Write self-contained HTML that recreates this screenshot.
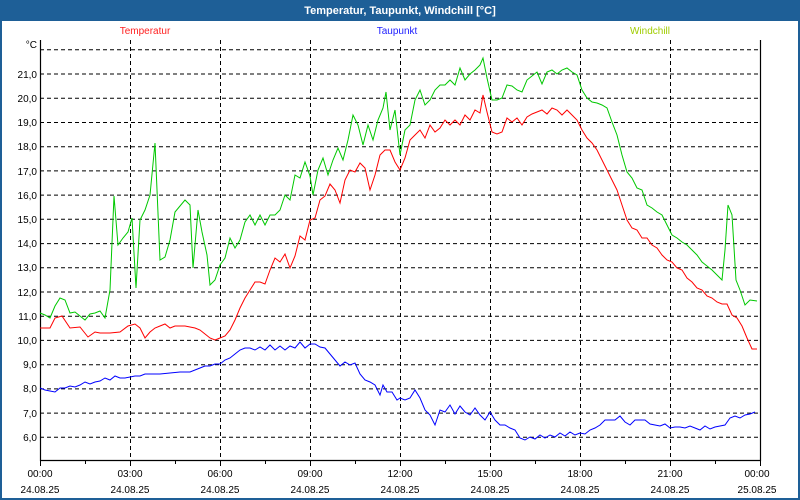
<!DOCTYPE html>
<html><head><meta charset="utf-8"><style>
html,body{margin:0;padding:0;width:800px;height:500px;overflow:hidden;background:#fff;}
svg{display:block;font-family:"Liberation Sans","DejaVu Sans",sans-serif;}
</style></head><body>
<svg width="800" height="500" viewBox="0 0 800 500" xmlns="http://www.w3.org/2000/svg">
<rect x="0" y="0" width="800" height="500" fill="#1e5f97"/>
<rect x="2" y="21" width="796" height="477" fill="#fff"/>
<text x="400" y="14" fill="#fff" font-size="11" font-weight="bold" text-anchor="middle">Temperatur, Taupunkt, Windchill [°C]</text>
<text x="145" y="34" fill="#ff2020" font-size="10" text-anchor="middle">Temperatur</text>
<text x="397" y="34" fill="#2020ff" font-size="10" text-anchor="middle">Taupunkt</text>
<text x="650" y="34" fill="#a0cc00" font-size="10" text-anchor="middle">Windchill</text>
<g stroke="#000" stroke-width="1" stroke-dasharray="4,3" fill="none">
<path d="M40 49.8H760M40 74H760M40 98.2H760M40 122.5H760M40 146.7H760M40 170.9H760M40 195.1H760M40 219.3H760M40 243.6H760M40 267.8H760M40 292H760M40 316.2H760M40 340.4H760M40 364.7H760M40 388.9H760M40 413.1H760M40 437.3H760"/>
<path d="M130.5 40V460M220.5 40V460M310.5 40V460M400.5 40V460M490.5 40V460M580.5 40V460M670.5 40V460"/>
</g>
<path d="M40.5 40V460.5H760.5V40" stroke="#000" stroke-width="1.2" fill="none"/>
<g stroke="#000" stroke-width="1">
<path d="M40.5 460V466M85.5 460V464M130.5 460V466M175.5 460V464M220.5 460V466M265.5 460V464M310.5 460V466M355.5 460V464M400.5 460V466M445.5 460V464M490.5 460V466M535.5 460V464M580.5 460V466M625.5 460V464M670.5 460V466M715.5 460V464M760.5 460V466"/>
</g>
<g font-size="10" fill="#000" text-anchor="end">
<text x="37" y="48">°C</text>
<text x="37" y="78">21,0</text><text x="37" y="102">20,0</text><text x="37" y="126">19,0</text><text x="37" y="150">18,0</text><text x="37" y="175">17,0</text><text x="37" y="199">16,0</text><text x="37" y="223">15,0</text><text x="37" y="247">14,0</text><text x="37" y="271">13,0</text><text x="37" y="296">12,0</text><text x="37" y="320">11,0</text><text x="37" y="344">10,0</text><text x="37" y="368">9,0</text><text x="37" y="392">8,0</text><text x="37" y="417">7,0</text><text x="37" y="441">6,0</text>
</g>
<g font-size="10" fill="#000" text-anchor="middle">
<text x="40" y="477">00:00</text><text x="40" y="493">24.08.25</text>
<text x="130" y="477">03:00</text><text x="130" y="493">24.08.25</text>
<text x="220" y="477">06:00</text><text x="220" y="493">24.08.25</text>
<text x="310" y="477">09:00</text><text x="310" y="493">24.08.25</text>
<text x="400" y="477">12:00</text><text x="400" y="493">24.08.25</text>
<text x="490" y="477">15:00</text><text x="490" y="493">24.08.25</text>
<text x="580" y="477">18:00</text><text x="580" y="493">24.08.25</text>
<text x="670" y="477">21:00</text><text x="670" y="493">24.08.25</text>
<text x="757" y="477">00:00</text><text x="757" y="493">25.08.25</text>
</g>
<polyline fill="none" stroke="#00c800" stroke-width="1" points="40,313 45,315 50,318 55,306 60,298 65,300 70,313 75,312 80,316 85,320 90,314 95,313 100,311 105,318 110,290 114,196 118,245 123,238 128,232 132,218 136,288 140,220 145,210 150,195 155,143 160,260 165,257 170,240 175,212 180,206 185,200 190,205 193,268 198,210 202,232 207,255 210,285 215,280 220,265 225,258 230,238 235,248 240,240 245,222 250,215 255,225 260,215 265,225 270,215 275,215 280,210 285,195 290,200 295,175 300,178 305,162 310,176 313,195 318,170 323,158 328,175 333,160 338,148 343,160 348,140 353,115 358,125 363,145 368,125 373,140 378,120 383,108 386,92 390,130 395,110 400,155 405,130 410,125 415,100 420,90 425,105 430,100 435,90 440,85 445,85 450,80 455,85 460,68 465,80 470,74 475,70 480,65 483,58 487,78 492,100 497,100 502,98 507,85 512,86 517,90 522,92 527,80 532,76 537,72 542,84 547,72 552,70 557,74 562,70 567,68 572,72 577,75 582,90 587,98 592,102 597,103 602,105 607,108 612,122 617,135 622,155 627,172 632,178 637,188 642,190 647,205 652,208 657,212 662,215 667,225 672,235 677,238 682,242 687,245 692,250 697,255 702,262 707,266 712,270 717,275 722,280 725,250 728,205 732,215 736,280 740,290 745,305 750,300 757,301"/>
<polyline fill="none" stroke="#ff0000" stroke-width="1" points="40,328 50,328 55,318 62,316 70,328 80,327 88,337 95,332 100,333 110,333 120,332 128,326 135,324 140,328 145,338 150,332 155,328 160,326 165,324 170,328 175,326 185,326 195,328 200,330 205,334 210,338 215,340 220,338 225,336 230,330 235,320 240,308 245,298 250,290 255,282 260,282 265,284 270,270 275,258 280,262 285,254 290,268 295,256 300,236 305,240 310,220 315,218 320,200 325,196 330,184 335,190 340,203 345,180 350,170 355,172 360,163 365,168 370,190 375,175 380,155 385,150 390,150 395,162 400,170 405,158 410,140 415,135 420,130 425,138 430,125 435,132 440,128 445,120 450,125 455,120 460,125 465,115 470,120 475,110 480,113 483,95 487,112 492,132 497,134 502,132 507,118 512,122 517,118 522,125 527,117 532,114 537,112 542,110 547,114 552,108 557,110 562,115 567,110 572,115 577,120 582,130 587,138 592,143 597,150 602,160 607,170 612,180 617,190 622,205 627,220 632,228 637,230 642,238 647,238 652,245 657,248 662,255 667,260 672,262 677,268 682,270 687,278 692,282 697,288 702,290 707,296 712,298 717,302 722,304 727,304 732,315 737,318 742,326 747,338 752,349 757,349"/>
<polyline fill="none" stroke="#0000ff" stroke-width="1" points="40,388 45,390 50,391 55,392 60,388 65,388 70,386 75,387 80,385 85,382 90,384 95,382 100,381 105,378 110,380 115,376 120,378 125,378 130,377 135,376 140,376 145,374 150,374 160,374 170,373 180,372 190,372 200,368 205,366 210,366 215,364 220,364 225,360 230,358 235,354 240,350 245,348 250,348 255,350 260,347 265,350 270,345 275,350 280,346 285,350 290,346 295,348 300,342 305,348 310,344 315,344 320,347 325,348 330,354 335,360 340,366 345,362 350,365 355,363 360,374 365,380 370,382 375,385 380,395 383,385 387,392 392,392 397,400 400,398 405,400 410,398 415,390 420,398 425,410 430,415 435,425 440,410 445,412 450,405 455,414 460,406 465,412 470,415 475,408 480,415 485,420 490,412 495,420 500,425 505,425 510,428 515,430 520,438 525,440 530,437 535,439 540,435 545,438 550,435 555,437 560,433 565,436 570,432 575,435 580,433 585,434 590,430 595,428 600,425 605,420 610,420 615,420 620,416 625,422 630,425 635,420 640,420 645,420 650,424 655,425 660,426 665,424 670,428 675,427 680,427 685,428 690,426 695,428 700,430 705,426 710,429 715,427 720,426 725,425 730,418 735,416 740,418 745,415 750,414 755,412"/>
</svg>
</body></html>
